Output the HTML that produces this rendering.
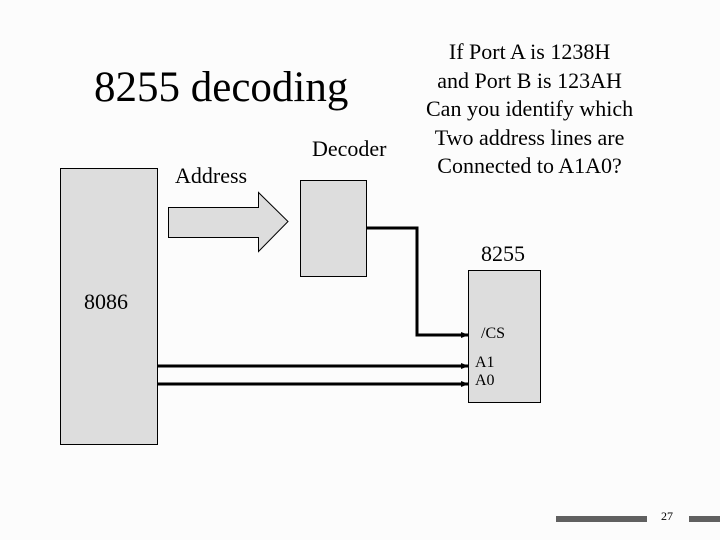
<!DOCTYPE html>
<html><head><meta charset="utf-8"><style>
body{margin:0;background:#fcfcfc;}
#c{position:relative;width:720px;height:540px;overflow:hidden;font-family:"Liberation Serif",serif;color:#000;}
.t{position:absolute;white-space:nowrap;line-height:1;}
</style></head><body><div id="c">
<svg width="720" height="540" style="position:absolute;left:0;top:0">
<defs><marker id="a" markerWidth="8" markerHeight="8" refX="7" refY="4" orient="auto" markerUnits="userSpaceOnUse"><path d="M0,1 L8,4 L0,7 z" fill="#000"/></marker></defs>
<rect x="60.5" y="168.5" width="97" height="276" fill="#dddddd" stroke="#000" stroke-width="1"/>
<rect x="300.5" y="180.5" width="66" height="96" fill="#dddddd" stroke="#000" stroke-width="1"/>
<rect x="468.5" y="270.5" width="72" height="132" fill="#dddddd" stroke="#000" stroke-width="1"/>
<path d="M168.5,207.5 L258.5,207.5 L258.5,192.5 L288,221.5 L258.5,251.5 L258.5,237.5 L168.5,237.5 z" fill="#dddddd" stroke="#000" stroke-width="1"/>
<polyline points="366,228 417,228 417,335 468,335" fill="none" stroke="#000" stroke-width="3" marker-end="url(#a)"/>
<line x1="157" y1="366" x2="468" y2="366" stroke="#000" stroke-width="3" marker-end="url(#a)"/>
<line x1="157" y1="384" x2="468" y2="384" stroke="#000" stroke-width="3" marker-end="url(#a)"/>
<rect x="556" y="516" width="91" height="6" fill="#606060"/>
<rect x="689" y="516" width="31" height="6" fill="#606060"/>
</svg>
<div class="t" style="left:94px;top:66px;font-size:43px;">8255 decoding</div>
<div class="t" style="left:175px;top:165px;font-size:22px;">Address</div>
<div class="t" style="left:312px;top:138px;font-size:22px;">Decoder</div>
<div class="t" style="left:426px;top:38px;font-size:22px;line-height:28.5px;text-align:center;">If Port A is 1238H<br>and Port B is 123AH<br>Can you identify which<br>Two address lines are<br>Connected to A1A0?</div>
<div class="t" style="left:481px;top:243px;font-size:22px;">8255</div>
<div class="t" style="left:84px;top:291px;font-size:22px;">8086</div>
<div class="t" style="left:481px;top:326px;font-size:16px;">/CS</div>
<div class="t" style="left:475px;top:355px;font-size:16px;">A1</div>
<div class="t" style="left:475px;top:373px;font-size:16px;">A0</div>
<div class="t" style="left:661px;top:510px;font-size:12px;">27</div>
</div></body></html>
